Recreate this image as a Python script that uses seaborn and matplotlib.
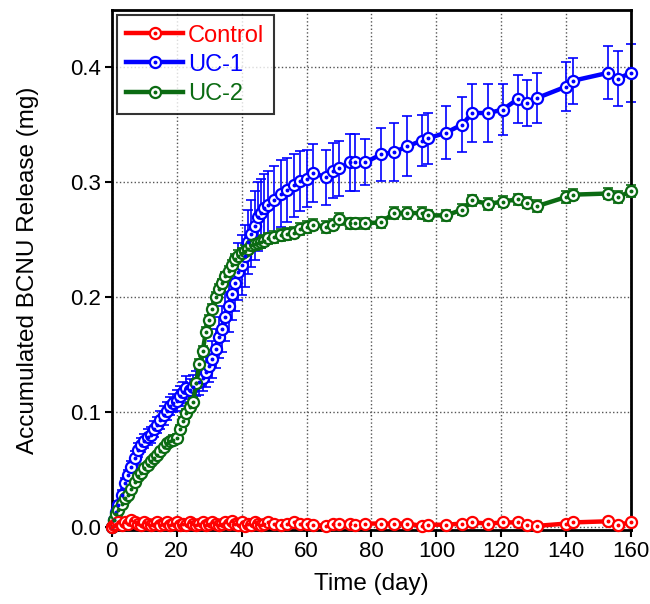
import numpy as np
import matplotlib
matplotlib.use("Agg")
import matplotlib.pyplot as plt
import seaborn as sns
from matplotlib.legend_handler import HandlerTuple
from matplotlib.lines import Line2D

days = [0, 0.6, 1.2, 2, 3, 4, 5, 6, 7, 8,
        9, 10, 11, 12, 13, 14, 15, 16, 17, 18,
        19, 20, 21, 22, 23, 24, 25, 26, 27, 28,
        29, 30, 31, 32, 33, 34, 35, 36, 37, 38,
        39, 40, 41, 42, 43, 44, 45, 46, 47, 48,
        50, 52, 54, 56, 58, 60, 62, 66, 68, 70,
        73.5, 75, 78, 83, 87, 91, 95.5, 97.5, 103, 108,
        111, 116, 120.5, 125, 128, 131, 140, 142, 153, 156,
        160]

control = [0.000, 0.002, 0.003, 0.004, 0.002, 0.004, 0.003, 0.006, 0.004, 0.003,
           0.002, 0.004, 0.003, 0.002, 0.003, 0.004, 0.002, 0.003, 0.004, 0.002,
           0.003, 0.004, 0.002, 0.003, 0.002, 0.004, 0.003, 0.002, 0.003, 0.004,
           0.002, 0.003, 0.004, 0.003, 0.002, 0.003, 0.004, 0.003, 0.005, 0.003,
           0.002, 0.004, 0.001, 0.003, 0.002, 0.004, 0.003, 0.002, 0.003, 0.004,
           0.003, 0.002, 0.003, 0.004, 0.003, 0.003, 0.002, 0.001, 0.003, 0.003,
           0.003, 0.002, 0.003, 0.003, 0.003, 0.003, 0.001, 0.002, 0.002, 0.003,
           0.004, 0.003, 0.004, 0.004, 0.002, 0.001, 0.003, 0.004, 0.005, 0.002,
           0.004]
control_err = [0.001] * len(days)

uc1 = [0.000, 0.006, 0.013, 0.019, 0.028, 0.038, 0.045, 0.052, 0.060, 0.067,
       0.071, 0.075, 0.078, 0.080, 0.085, 0.089, 0.093, 0.097, 0.101, 0.105,
       0.108, 0.110, 0.114, 0.117, 0.121, 0.119, 0.122, 0.125, 0.126, 0.130,
       0.135, 0.140, 0.146, 0.155, 0.165, 0.172, 0.183, 0.192, 0.203, 0.212,
       0.222, 0.228, 0.236, 0.248, 0.255, 0.262, 0.270, 0.273, 0.277, 0.280,
       0.284, 0.290, 0.293, 0.297, 0.301, 0.303, 0.308, 0.304, 0.310, 0.312,
       0.317, 0.317, 0.317, 0.324, 0.326, 0.331, 0.336, 0.338, 0.343, 0.350,
       0.360, 0.360, 0.363, 0.372, 0.369, 0.373, 0.383, 0.388, 0.395, 0.390,
       0.395]
uc1_err = [0.000, 0.002, 0.003, 0.004, 0.004, 0.005, 0.005, 0.005, 0.006, 0.006,
           0.006, 0.006, 0.007, 0.007, 0.007, 0.007, 0.008, 0.008, 0.008, 0.008,
           0.008, 0.009, 0.009, 0.009, 0.010, 0.010, 0.010, 0.011, 0.011, 0.012,
           0.013, 0.014, 0.016, 0.017, 0.018, 0.020, 0.021, 0.022, 0.023, 0.024,
           0.025, 0.026, 0.027, 0.028, 0.029, 0.030, 0.030, 0.030, 0.030, 0.030,
           0.030, 0.029, 0.028, 0.027, 0.026, 0.025, 0.025, 0.024, 0.024, 0.024,
           0.025, 0.025, 0.020, 0.023, 0.025, 0.026, 0.022, 0.022, 0.023, 0.024,
           0.025, 0.025, 0.022, 0.021, 0.020, 0.022, 0.021, 0.020, 0.023, 0.024,
           0.025]

uc2 = [0.000, 0.006, 0.011, 0.015, 0.020, 0.025, 0.028, 0.033, 0.039, 0.044,
       0.047, 0.051, 0.054, 0.057, 0.060, 0.063, 0.066, 0.070, 0.073, 0.075,
       0.076, 0.077, 0.085, 0.092, 0.099, 0.104, 0.109, 0.125, 0.142, 0.153,
       0.170, 0.180, 0.190, 0.200, 0.207, 0.212, 0.218, 0.223, 0.228, 0.233,
       0.236, 0.238, 0.240, 0.242, 0.245, 0.246, 0.247, 0.248, 0.249, 0.251,
       0.252, 0.254, 0.255, 0.256, 0.259, 0.261, 0.263, 0.261, 0.263, 0.268,
       0.264, 0.264, 0.264, 0.265, 0.273, 0.273, 0.273, 0.271, 0.271, 0.276,
       0.284, 0.281, 0.283, 0.285, 0.282, 0.279, 0.287, 0.289, 0.290, 0.287,
       0.292]
uc2_err = [0.001] * 20 + [0.004] * 20 + [0.005] * 20 + [0.005] * 21

series = [
    ("UC-1", uc1, uc1_err, "#0000ff"),
    ("UC-2", uc2, uc2_err, "#0b6b12"),
    ("Control", control, control_err, "#ff0000"),
]
legend_order = ["Control", "UC-1", "UC-2"]

plt.rcParams['font.family'] = ['Liberation Sans', 'DejaVu Sans']
fig = plt.figure(figsize=(6.5, 6.04), dpi=100)
ax = fig.add_axes([0.172, 0.1225, 0.799, 0.861])

handles = {}
for name, vals, err, color in series:
    ax.errorbar(days, vals, yerr=err, fmt="none", ecolor=color, elinewidth=1.2,
                capsize=3.5, capthick=1.2, clip_on=False, zorder=2)
    sns.lineplot(x=days, y=vals, ax=ax, color=color, lw=3.2, marker="o",
                 markersize=8, markerfacecolor="white", markeredgecolor=color,
                 markeredgewidth=1.6, clip_on=False, zorder=3, sort=False)
    ax.plot(days, vals, ls="none", marker="o", markersize=1.8, color=color,
            clip_on=False, zorder=4)
    h1 = Line2D([], [], color=color, lw=3.2, marker="o", markersize=8,
                markerfacecolor="white", markeredgecolor=color, markeredgewidth=1.6)
    h2 = Line2D([], [], ls="none", marker="o", markersize=1.8, color=color)
    handles[name] = ((h1, h2), color)

ax.set_xlim(0, 160)
ax.set_ylim(-0.0026, 0.4496)
ax.set_xticks(np.arange(0, 161, 20))
ax.set_yticks([0.0, 0.1, 0.2, 0.3, 0.4])
ax.set_yticklabels(["0.0", "0.1", "0.2", "0.3", "0.4"])
ax.grid(True, color="#555555", ls=":", lw=1.0)
ax.set_axisbelow(True)
for sp in ax.spines.values():
    sp.set_color("black")
    sp.set_linewidth(2)
ax.tick_params(direction="out", length=5, width=1.5, labelsize=16, pad=3)
ax.set_xlabel("Time (day)", fontsize=17.5, labelpad=8)
ax.set_ylabel("Accumulated BCNU Release (mg)", fontsize=17.5, labelpad=22)

leg = ax.legend([handles[n][0] for n in legend_order], legend_order,
                handler_map={tuple: HandlerTuple(ndivide=1)},
                loc="upper left", bbox_to_anchor=(0.01, 0.99), borderaxespad=0,
                fontsize=17, frameon=True, fancybox=False, handlelength=2.4,
                handletextpad=0.2, labelspacing=0.3, borderpad=0.4)
leg.get_frame().set_edgecolor("black")
leg.get_frame().set_linewidth(1.5)
leg.set_zorder(10)
for txt, n in zip(leg.get_texts(), legend_order):
    txt.set_color(handles[n][1])

fig.savefig("out.png", dpi=100)
